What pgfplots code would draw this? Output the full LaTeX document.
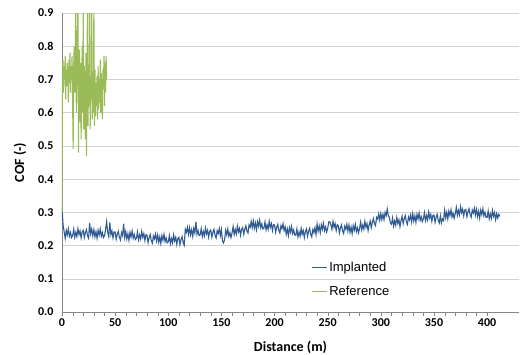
\documentclass[border=0pt]{standalone}
\usepackage{fontspec}
\setmainfont{Carlito}
\newfontfamily\arialfont{Liberation Sans}
\usepackage{pgfplots}
\pgfplotsset{compat=1.18}
\definecolor{impl}{RGB}{47,91,146}
\definecolor{refc}{RGB}{155,187,89}
\definecolor{gridc}{RGB}{210,210,210}
\definecolor{axc}{RGB}{134,134,134}
\begin{document}
\begin{tikzpicture}[x=1pt,y=1pt]
\path[use as bounding box] (-62,-42) rectangle (458,312);
\begin{axis}[
  at={(0,0)}, anchor=south west,
  scale only axis, width=457pt, height=299pt,
  xmin=0, xmax=430, ymin=0, ymax=0.9,
  axis x line*=bottom, axis y line*=left,
  axis line style={axc,-},
  xtick={0,50,100,150,200,250,300,350,400},
  minor x tick num=4,
  tick align=outside,
  major tick length=4pt, minor tick length=4pt,
  x tick style={axc},
  minor x tick style={axc},
  ytick={0,0.1,0.2,0.3,0.4,0.5,0.6,0.7,0.8,0.9},
  y tick style={draw=none},
  ymajorgrids, grid style={gridc},
  yticklabel style={/pgf/number format/fixed, /pgf/number format/fixed zerofill, /pgf/number format/precision=1, xshift=-1pt},
  xticklabel style={yshift=1pt},
  /pgf/number format/assume math mode=true,
  tick label style={font=\bfseries\fontsize{12}{14}\selectfont},
  xlabel={\textbf{Distance (m)}}, ylabel={\textbf{COF (-)}},
  label style={font=\bfseries\fontsize{14}{16}\selectfont},
  xlabel style={at={([yshift=-35pt]axis description cs:0.5,0)}, anchor=center},
  ylabel style={at={([xshift=-42pt]axis description cs:0,0.5)}, anchor=center},
  legend style={at={(0.545,0.109)}, anchor=west, draw=none, fill=none,
    font=\arialfont\fontsize{13}{15}\selectfont, row sep=9pt, inner sep=0pt,
    cells={anchor=west}},
  legend image code/.code={\draw[#1, line width=1pt] (0pt,0pt) -- (15pt,0pt);},
]
\addplot[impl, line width=1.1pt] coordinates {
(0,.315)(1,.262)(2,.242)(3,.222)(4,.246)(5,.232)(6,.250)(7,.228)(8,.239)(9,.224)
(10,.230)(11,.249)(12,.225)(13,.240)(14,.227)(15,.251)(16,.233)(17,.244)(18,.223)(19,.241)
(20,.246)(21,.224)(22,.239)(23,.248)(24,.230)(25,.222)(26,.268)(27,.235)(28,.250)(29,.229)
(30,.248)(31,.226)(32,.242)(33,.222)(34,.246)(35,.232)(36,.250)(37,.228)(38,.239)(39,.224)
(40,.230)(41,.249)(42,.272)(43,.240)(44,.227)(45,.270)(46,.233)(47,.244)(48,.223)(49,.241)
(50,.241)(51,.219)(52,.234)(53,.243)(54,.225)(55,.217)(56,.239)(57,.230)(58,.266)(59,.224)
(60,.242)(61,.220)(62,.236)(63,.216)(64,.240)(65,.226)(66,.244)(67,.222)(68,.233)(69,.218)
(70,.222)(71,.241)(72,.217)(73,.232)(74,.219)(75,.243)(76,.225)(77,.236)(78,.215)(79,.233)
(80,.231)(81,.209)(82,.224)(83,.233)(84,.215)(85,.207)(86,.229)(87,.220)(88,.235)(89,.214)
(90,.232)(91,.210)(92,.226)(93,.206)(94,.230)(95,.216)(96,.234)(97,.212)(98,.223)(99,.208)
(100,.211)(101,.230)(102,.206)(103,.221)(104,.208)(105,.232)(106,.214)(107,.225)(108,.204)(109,.222)
(110,.225)(111,.203)(112,.218)(113,.227)(114,.209)(115,.201)(116,.249)(117,.240)(118,.255)(119,.234)
(120,.254)(121,.232)(122,.248)(123,.228)(124,.252)(125,.238)(126,.272)(127,.234)(128,.245)(129,.230)
(130,.232)(131,.251)(132,.227)(133,.242)(134,.229)(135,.253)(136,.235)(137,.246)(138,.225)(139,.243)
(140,.247)(141,.225)(142,.240)(143,.249)(144,.231)(145,.223)(146,.245)(147,.236)(148,.251)(149,.230)
(150,.248)(151,.214)(152,.208)(153,.218)(154,.246)(155,.232)(156,.250)(157,.228)(158,.239)(159,.224)
(160,.238)(161,.257)(162,.233)(163,.248)(164,.235)(165,.259)(166,.241)(167,.252)(168,.231)(169,.249)
(170,.254)(171,.234)(172,.249)(173,.260)(174,.244)(175,.238)(176,.262)(177,.255)(178,.273)(179,.254)
(180,.274)(181,.252)(182,.268)(183,.248)(184,.272)(185,.258)(186,.276)(187,.254)(188,.265)(189,.250)
(190,.252)(191,.271)(192,.247)(193,.262)(194,.249)(195,.273)(196,.255)(197,.266)(198,.245)(199,.263)
(200,.262)(201,.240)(202,.255)(203,.264)(204,.246)(205,.238)(206,.260)(207,.251)(208,.266)(209,.245)
(210,.256)(211,.234)(212,.250)(213,.230)(214,.254)(215,.240)(216,.258)(217,.236)(218,.247)(219,.232)
(220,.231)(221,.250)(222,.226)(223,.241)(224,.228)(225,.252)(226,.234)(227,.245)(228,.224)(229,.242)
(230,.250)(231,.228)(232,.243)(233,.252)(234,.234)(235,.226)(236,.248)(237,.239)(238,.254)(239,.233)
(240,.265)(241,.243)(242,.259)(243,.239)(244,.263)(245,.249)(246,.267)(247,.245)(248,.256)(249,.241)
(250,.252)(251,.271)(252,.272)(253,.262)(254,.249)(255,.273)(256,.255)(257,.266)(258,.245)(259,.263)
(260,.260)(261,.238)(262,.253)(263,.262)(264,.244)(265,.236)(266,.258)(267,.249)(268,.264)(269,.243)
(270,.262)(271,.240)(272,.256)(273,.236)(274,.260)(275,.246)(276,.264)(277,.242)(278,.253)(279,.238)
(280,.252)(281,.271)(282,.247)(283,.262)(284,.249)(285,.273)(286,.255)(287,.266)(288,.245)(289,.263)
(290,.274)(291,.254)(292,.270)(293,.281)(294,.266)(295,.260)(296,.285)(297,.280)(298,.295)(299,.276)
(300,.296)(301,.278)(302,.294)(303,.278)(304,.300)(305,.290)(306,.310)(307,.290)(308,.285)(309,.268)
(310,.264)(311,.283)(312,.259)(313,.274)(314,.261)(315,.285)(316,.267)(317,.278)(318,.257)(319,.275)
(320,.288)(321,.266)(322,.281)(323,.290)(324,.272)(325,.264)(326,.286)(327,.277)(328,.292)(329,.271)
(330,.296)(331,.274)(332,.290)(333,.270)(334,.294)(335,.280)(336,.298)(337,.276)(338,.287)(339,.272)
(340,.280)(341,.299)(342,.275)(343,.290)(344,.277)(345,.301)(346,.283)(347,.294)(348,.273)(349,.291)
(350,.292)(351,.270)(352,.285)(353,.294)(354,.276)(355,.268)(356,.290)(357,.268)(358,.280)(359,.275)
(360,.306)(361,.284)(362,.300)(363,.280)(364,.304)(365,.290)(366,.308)(367,.286)(368,.297)(369,.282)
(370,.296)(371,.315)(372,.291)(373,.306)(374,.293)(375,.317)(376,.299)(377,.310)(378,.289)(379,.307)
(380,.309)(381,.287)(382,.302)(383,.311)(384,.293)(385,.285)(386,.307)(387,.298)(388,.313)(389,.292)
(390,.309)(391,.287)(392,.303)(393,.283)(394,.307)(395,.293)(396,.311)(397,.289)(398,.300)(399,.285)
(400,.285)(401,.304)(402,.280)(403,.295)(404,.282)(405,.306)(406,.288)(407,.299)(408,.278)(409,.296)
(410,.283)(411,.294)(412,.288)
};
\addlegendentry{Implanted}
\addplot[refc, line width=1.1pt] coordinates {
(0,.30)(0.5,.72)(1,.76)(1.5,.66)(2,.74)(2.5,.70)(3,.77)(3.5,.64)(4,.73)(4.5,.68)
(5,.75)(5.5,.71)(6,.63)(6.5,.76)(7,.69)(7.5,.78)(8,.66)(8.5,.74)(9,.70)(9.5,.77)
(10,.63)(10.5,.49)(11,.74)(11.5,.80)(12,.66)(12.5,.78)(13,.95)(13.5,.60)(14,.72)(14.5,.81)
(15,.95)(15.5,.48)(16,.70)(16.5,.79)(17,.57)(17.5,.75)(18,.52)(18.5,.68)(19,.80)(19.5,.60)
(20,.95)(20.5,.55)(21,.74)(21.5,.63)(22,.52)(22.5,.78)(23,.47)(23.5,.70)(24,.95)(24.5,.56)
(25,.73)(25.5,.62)(26,.95)(26.5,.55)(27,.70)(27.5,.64)(28,.95)(28.5,.58)(29,.72)(29.5,.60)
(30,.93)(30.5,.56)(31,.73)(31.5,.59)(32,.69)(32.5,.62)(33,.71)(33.5,.58)(34,.74)(34.5,.61)
(35,.70)(35.5,.63)(36,.76)(36.5,.60)(37,.72)(37.5,.65)(38,.58)(38.5,.73)(39,.67)(39.5,.77)
(40,.62)(40.5,.75)(41,.66)(41.5,.77)(42,.70)
};
\addlegendentry{Reference}
\end{axis}
\end{tikzpicture}
\end{document}
